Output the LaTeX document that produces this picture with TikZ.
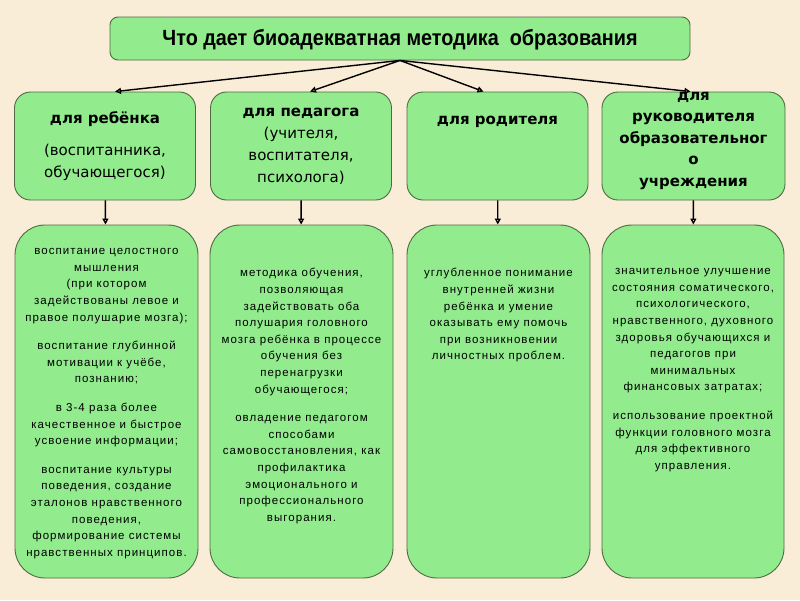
\documentclass[tikz,border=0pt]{standalone}
\usepackage{fontspec}
\setmainfont{DejaVu Sans}
\newfontfamily\titlefont[FakeStretch=0.9]{Liberation Sans}
\newfontfamily\notefont[LetterSpace=9]{Liberation Sans}
\usetikzlibrary{arrows.meta}
\definecolor{paper}{HTML}{F9EDD8}
\definecolor{leaf}{HTML}{92EC8E}
\definecolor{rim}{HTML}{4F6A44}
\begin{document}
\begin{tikzpicture}[x=1pt,y=-1pt,
  box/.style={draw=rim,fill=leaf,line width=0.9pt,inner sep=0pt},
  head/.style={box,rounded corners=8pt,minimum width=580pt,minimum height=43pt},
  who/.style={box,rounded corners=16pt,minimum width=181pt,minimum height=108pt},
  what/.style={box,rounded corners=30pt,minimum width=183pt,minimum height=353pt},
  whotext/.style={align=center,font=\fontsize{15}{22}\selectfont},
  whattext/.style={align=center,anchor=north,font=\notefont\fontsize{11.5}{16.6}\selectfont},
  link/.style={line width=1.4pt,-{Triangle[open,length=6pt,width=6pt]}}]
\fill[paper] (0,0) rectangle (800,600);
\useasboundingbox (0,0) rectangle (800,600);

\node[head] (head) at (400,38.5) {};
\node[font=\titlefont\bfseries\fontsize{22}{24}\selectfont] (headtext) at (400,40)
  {Что дает биоадекватная методика\ \ образования};

\node[who] (c1) at (105,146) {};
\node[who] (c2) at (301,146) {};
\node[who] (c3) at (497.5,146) {};
\node[who,minimum width=183pt] (c4) at (693.5,146) {};

\node[whotext] (c1text) at (105,146)
  {\textbf{для ребёнка}\\[10pt](воспитанника,\\обучающегося)};
\node[whotext] (c2text) at (301,146)
  {\textbf{для педагога}\\(учителя,\\воспитателя,\\психолога)};
\node[whotext,anchor=north] (c3text) at (497.5,113)
  {\textbf{для родителя}};
\node[whotext,font=\bfseries\fontsize{15}{21.5}\selectfont] (c4text) at (693.5,141)
  {для\\руководителя\\образовательног\\о\\учреждения};

\node[what] (d1) at (106.5,401.5) {};
\node[what] (d2) at (301.5,401.5) {};
\node[what] (d3) at (498.5,401.5) {};
\node[what,minimum width=182pt] (d4) at (693,401.5) {};

\node[whattext] (d1text) at (106.5,245)
  {воспитание целостного\\мышления\\(при котором\\задействованы левое и\\правое полушарие мозга);\\[12pt]
   воспитание глубинной\\мотивации к учёбе,\\познанию;\\[12pt]
   в 3-4 раза более\\качественное и быстрое\\усвоение информации;\\[12pt]
   воспитание культуры\\поведения, создание\\эталонов нравственного\\поведения,\\формирование системы\\нравственных принципов.};
\node[whattext] (d2text) at (301.5,265)
  {методика обучения,\\позволяющая\\задействовать оба\\полушария головного\\мозга ребёнка в процессе\\обучения без\\перенагрузки\\обучающегося;\\[12pt]
   овладение педагогом\\способами\\самовосстановления, как\\профилактика\\эмоционального и\\профессионального\\выгорания.};
\node[whattext] (d3text) at (498.5,265)
  {углубленное понимание\\внутренней жизни\\ребёнка и умение\\оказывать ему помочь\\при возникновении\\личностных проблем.};
\node[whattext] (d4text) at (693,265)
  {значительное улучшение\\состояния соматического,\\психологического,\\нравственного, духовного\\здоровья обучающихся и\\педагогов при\\минимальных\\финансовых затратах;\\[12pt]
   использование проектной\\функции головного мозга\\для эффективного\\управления.};

% from the question to the four groups
\draw[link] (head.south) -- ([xshift=10pt]c1.north);
\draw[link] (head.south) -- ([xshift=9pt]c2.north);
\draw[link] (head.south) -- ([xshift=-14pt]c3.north);
\draw[link] (head.south) -- ([xshift=-3pt]c4.north);

\draw[link] (c1) -- (d1);
\draw[link] (c2) -- (d2);
\draw[link] (c3) -- (d3);
\draw[link] (c4) -- (d4);
\end{tikzpicture}
\end{document}
